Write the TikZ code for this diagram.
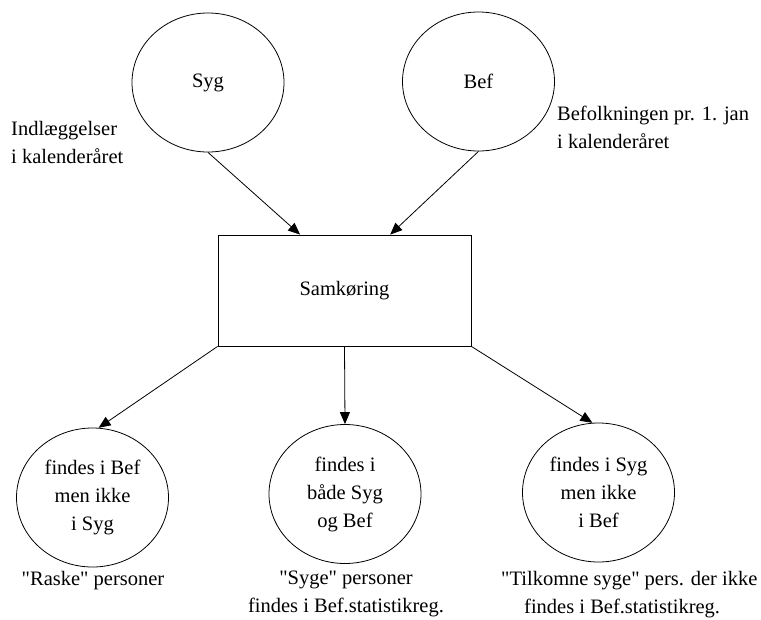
\documentclass[tikz,border=0pt]{standalone}
\usepackage{fontspec}
\setmainfont{Liberation Serif}[Ligatures=TeXOff]
\usetikzlibrary{shapes.geometric,arrows.meta,calc}
\begin{document}
\begin{tikzpicture}[x=1pt,y=-1pt,
  every node/.style={font=\fontsize{20.5}{28}\selectfont},
  oval/.style={draw,ellipse,minimum width=152pt,minimum height=139pt,inner sep=0pt,align=center,line width=0.8pt},
  boxnode/.style={draw,rectangle,minimum width=253pt,minimum height=111pt,line width=0.8pt},
  conn/.style={-{Triangle[length=12pt,width=10pt]},line width=0.8pt},
  note/.style={inner sep=0pt,anchor=north west,align=left},
  caption/.style={inner sep=0pt,anchor=north,align=center}]
\useasboundingbox (0,0) rectangle (761,619);
\node[oval] (syg) at (208,82.5) {Syg};
\node[oval] (bef) at (478.5,81.5) {Bef};
\node[boxnode] (box) at (344.5,290.5) {Samkøring};
\node[oval] (l) at (92.5,497.5) {findes i Bef\\men ikke\\i Syg};
\node[oval] (m) at (345,494) {findes i\\både Syg\\og Bef};
\node[oval] (r) at (598.5,492.5) {findes i Syg\\men ikke\\i Bef};
\node[note] (n1) at (11,121) {Indlæggelser\\i kalenderåret};
\node[note] (n2) at (557,106) {Befolkningen pr. 1. jan\\i kalenderåret};
\node[caption] (c1) at (93,571) {"Raske" personer};
\node[caption] (c2) at (346,571) {"Syge" personer\\findes i Bef.statistikreg.};
\node[note] (c3) at (501,571) {"Tilkomne syge" pers. der ikke\\\hspace*{23pt}findes i Bef.statistikreg.};
\coordinate (t1) at ($(box.north west)!0.325!(box.north east)$);
\coordinate (t2) at ($(box.north west)!0.68!(box.north east)$);
\draw[conn] (syg.south) -- (t1);
\draw[conn] (bef.south) -- (t2);
\draw[conn] (box.south west) -- (l.85);
\draw[conn] (box.south) -- (m.north);
\draw[conn] (box.south east) -- (r.95);
\end{tikzpicture}
\end{document}
